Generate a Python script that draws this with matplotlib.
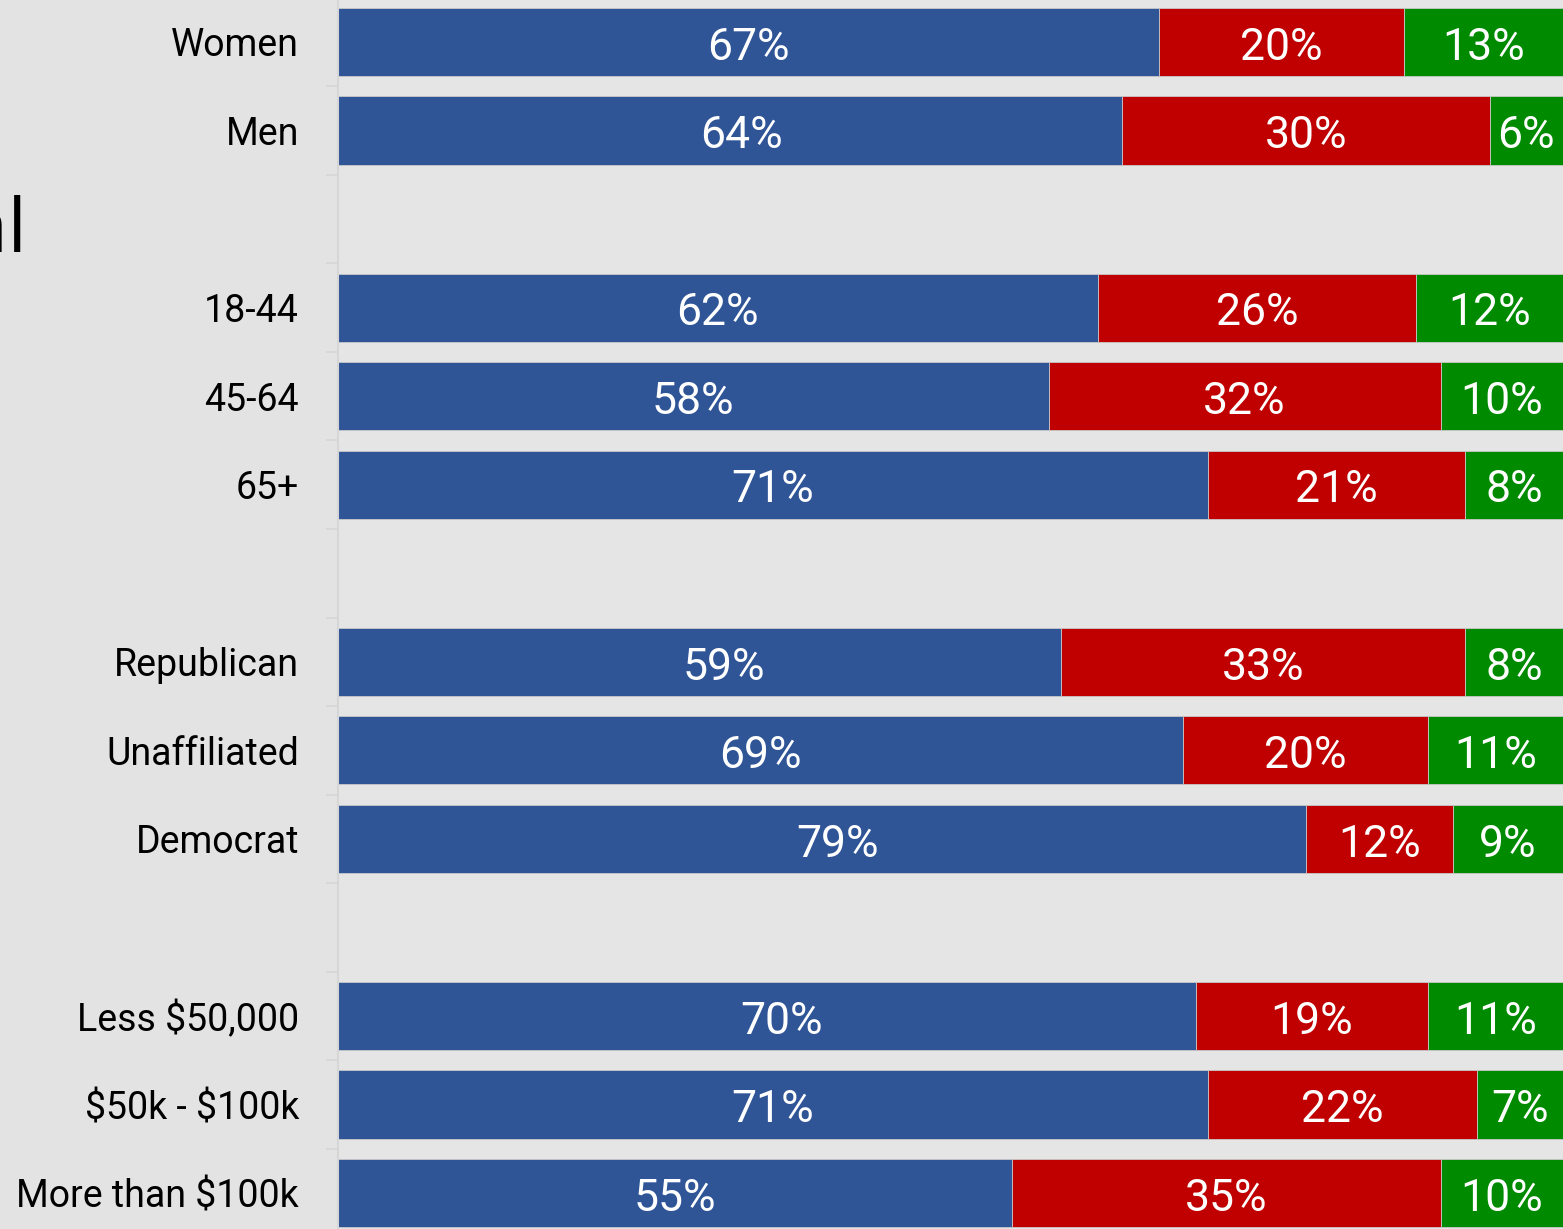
import matplotlib
matplotlib.use('Agg')
import matplotlib.pyplot as plt
import numpy as np

# rows top to bottom, '' = spacer row
labels = ['Women', 'Men', '', '18-44', '45-64', '65+', '',
          'Republican', 'Unaffiliated', 'Democrat', '',
          'Less \\$50,000', '\\$50k - \\$100k', 'More than \\$100k']
blue = [67, 64, None, 62, 58, 71, None, 59, 69, 79, None, 70, 71, 55]
red = [20, 30, None, 26, 32, 21, None, 33, 20, 12, None, 19, 22, 35]
green = [13, 6, None, 12, 10, 8, None, 8, 11, 9, None, 11, 7, 10]

# small horizontal nudges of the blue value labels, as seen in the original
blue_nudge = [0, 0.9, 0, 0, 0, 0, 0, 2.0, 0, 1.3, 0, 1.2, 0, 0]

colors = ['#2f5597', '#c00000', '#008a00']

plt.rcParams['font.family'] = ['Roboto', 'DejaVu Sans']

fig = plt.figure(figsize=(15.63, 12.29), dpi=100, facecolor='#e3e3e3')
ax = fig.add_axes([338 / 1563, 0, 1 - 338 / 1563, 1])
ax.set_facecolor('#e5e5e5')

y = np.arange(len(labels))
for i in y:
    if blue[i] is None:
        continue
    left = 0
    for k, (val, col) in enumerate(zip([blue[i], red[i], green[i]], colors)):
        ax.barh(i, val, left=left, height=0.77, color=col,
                edgecolor='#c8c8c8', linewidth=0.6)
        nudge = blue_nudge[i] if k == 0 else 0
        ax.text(left + val / 2 + nudge, i + 0.065, f'{val}%', ha='center',
                va='center', color='white', fontsize=32)
        left += val

ax.set_xlim(0, 100)
ax.set_ylim(13.406, -0.474)
ax.set_yticks(y)
ax.set_yticklabels(labels, fontsize=27)
ax.tick_params(axis='y', which='major', length=0, pad=28)
ax.set_yticks(y[:-1] + 0.5, minor=True)
ax.tick_params(axis='y', which='minor', length=9, color='#d6d6d6', width=1.2)
ax.set_xticks([])
for s in ['top', 'right', 'bottom']:
    ax.spines[s].set_visible(False)
ax.spines['left'].set_color('#d6d6d6')
ax.spines['left'].set_linewidth(1.5)

# partially visible title on the left edge
fig.text(27 / 1563, 1 - 251 / 1229, 'Total', ha='right', va='baseline',
         fontsize=54, color='black', family=['Open Sans', 'DejaVu Sans'])

fig.savefig('out.png', dpi=100, facecolor=fig.get_facecolor())
